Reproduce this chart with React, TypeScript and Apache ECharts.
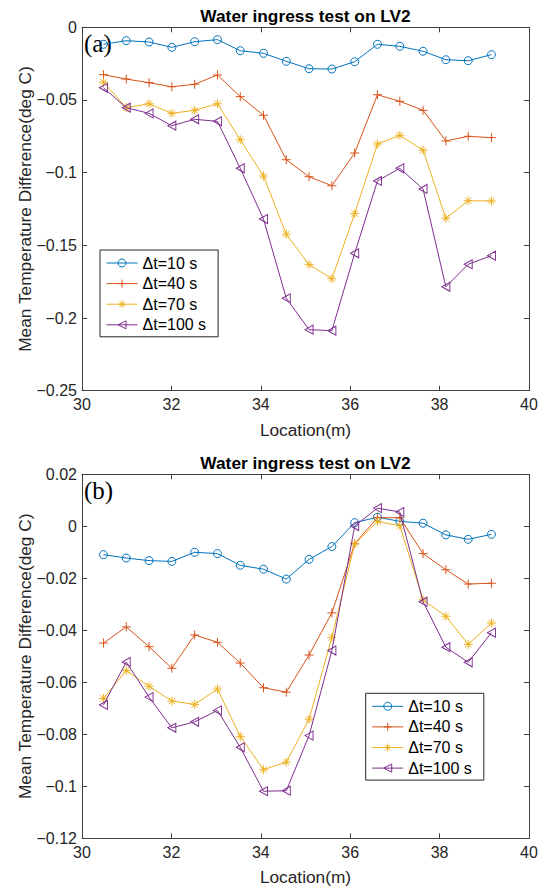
import React, { useEffect, useRef } from 'react';
import * as echarts from 'echarts';

// Locations (m) along the line
const locations = [30.48, 30.99, 31.5, 32.01, 32.52, 33.03, 33.54, 34.06, 34.57, 35.08, 35.59, 36.1, 36.61, 37.11, 37.63, 38.14, 38.64, 39.16];

const seriesNames = ['Δt=10 s', 'Δt=40 s', 'Δt=70 s', 'Δt=100 s'];

// Panel (a)
const a10 = [-0.0117, -0.0092, -0.0101, -0.0138, -0.0099, -0.0085, -0.0161, -0.0179, -0.0234, -0.0285, -0.0287, -0.0237, -0.0117, -0.0131, -0.0165, -0.0223, -0.023, -0.0188];
const a40 = [-0.0326, -0.0356, -0.0381, -0.0409, -0.0392, -0.0328, -0.0477, -0.0605, -0.0911, -0.1028, -0.109, -0.0865, -0.0464, -0.0509, -0.0571, -0.0782, -0.075, -0.0759];
const a70 = [-0.0378, -0.0553, -0.0526, -0.0592, -0.0571, -0.0526, -0.0773, -0.1023, -0.1424, -0.1633, -0.173, -0.1282, -0.0803, -0.0743, -0.0846, -0.1314, -0.1193, -0.1195];
const a100 = [-0.0416, -0.0553, -0.0592, -0.0677, -0.0633, -0.0647, -0.097, -0.1319, -0.1864, -0.208, -0.2087, -0.1555, -0.1057, -0.097, -0.1112, -0.1785, -0.163, -0.1571];

// Panel (b)
const b10 = [-0.0109, -0.0122, -0.0132, -0.0135, -0.01, -0.0105, -0.015, -0.0165, -0.0203, -0.0127, -0.0078, 0.0014, 0.0035, 0.0019, 0.0012, -0.0033, -0.005, -0.0031];
const b40 = [-0.0449, -0.0387, -0.0463, -0.0546, -0.0418, -0.0446, -0.0526, -0.0621, -0.0638, -0.0495, -0.0333, -0.0067, 0.0033, 0.0033, -0.0105, -0.0167, -0.0222, -0.0219];
const b70 = [-0.0662, -0.0555, -0.0615, -0.0672, -0.0685, -0.0626, -0.0808, -0.0936, -0.0907, -0.0742, -0.0427, -0.0068, 0.0018, 0.0002, -0.0283, -0.0346, -0.0454, -0.0372];
const b100 = [-0.0687, -0.0522, -0.0657, -0.0775, -0.0752, -0.0708, -0.085, -0.1019, -0.1017, -0.0805, -0.0478, 0.0001, 0.007, 0.0055, -0.029, -0.0465, -0.0523, -0.0409];

const titleText = 'Water ingress test on LV2';
const xLabel = 'Location(m)';
const yLabel = 'Mean Temperature Difference(deg C)';
const panelLabels = ['(a)', '(b)'];

const colors = ['#0072BD', '#D95319', '#EDB120', '#7E2F8E'];
const symbols = [
  'circle',
  'path://M5,0L5,10M0,5L10,5',
  'path://M5,0L5,10M0,5L10,5M1.5,1.5L8.5,8.5M1.5,8.5L8.5,1.5',
  'path://M0,5L9,0L9,10Z',
];
const symbolSizes: any[] = [8, 9, 9, [8, 9]];

const FONT = '"Liberation Sans", Arial, Helvetica, sans-serif';
const AXIS_COLOR = '#404040';
const CLEAR = 'rgba(255,255,255,0)';

const fmt = (v: number) => {
  const s = String(parseFloat(v.toFixed(4)));
  return s.replace('-', '\u2212');
};

export default function App() {
  const ref = useRef<HTMLDivElement>(null);
  useEffect(() => {
    if (!ref.current) return;
    const chart = echarts.init(ref.current, undefined, { renderer: 'svg' });

    const grids = [
      { left: 82, top: 27.3, width: 447, height: 363.4, outerBoundsMode: 'none' },
      { left: 82, top: 474.3, width: 447, height: 364, outerBoundsMode: 'none' },
    ];
    const yRanges = [
      { min: -0.25, max: 0, interval: 0.05 },
      { min: -0.12, max: 0.02, interval: 0.02 },
    ];

    const xAxes: any[] = [];
    const yAxes: any[] = [];
    [0, 1].forEach((g) => {
      ['bottom', 'top'].forEach((pos) => {
        xAxes.push({
          type: 'value', gridIndex: g, position: pos, min: 30, max: 40, interval: 2,
          axisLine: { show: true, onZero: false, lineStyle: { color: AXIS_COLOR, width: 1 } },
          axisTick: { show: true, inside: true, length: 5, lineStyle: { color: AXIS_COLOR, width: 1 } },
          axisLabel: { show: pos === 'bottom', margin: 6, fontSize: 16, fontFamily: FONT, color: '#262626', formatter: fmt },
          splitLine: { show: false },
        });
      });
      ['left', 'right'].forEach((pos) => {
        yAxes.push({
          type: 'value', gridIndex: g, position: pos, ...yRanges[g],
          axisLine: { show: true, onZero: false, lineStyle: { color: AXIS_COLOR, width: 1 } },
          axisTick: { show: true, inside: true, length: 5, lineStyle: { color: AXIS_COLOR, width: 1 } },
          axisLabel: { show: pos === 'left', margin: 5, fontSize: 16, fontFamily: FONT, color: '#262626', formatter: fmt },
          splitLine: { show: false },
        });
      });
    });

    const panels = [
      [a10, a40, a70, a100],
      [b10, b40, b70, b100],
    ];
    const series: any[] = [];
    panels.forEach((vals, g) => {
      vals.forEach((ys, k) => {
        series.push({
          type: 'line',
          name: seriesNames[k],
          xAxisIndex: g * 2,
          yAxisIndex: g * 2,
          data: locations.map((x, i) => [x, ys[i]]),
          symbol: symbols[k],
          symbolSize: symbolSizes[k],
          showAllSymbol: true,
          color: colors[k],
          lineStyle: { color: colors[k], width: 1 },
          itemStyle: { color: CLEAR, borderColor: colors[k], borderWidth: 1 },
          emphasis: { disabled: true },
          z: 2 + k,
        });
      });
    });

    const legendBase = {
      data: seriesNames,
      orient: 'vertical',
      itemWidth: 31,
      itemHeight: 10,
      itemGap: 4.6,
      padding: [5, 12, 4, 6],
      backgroundColor: '#ffffff',
      borderColor: '#262626',
      borderWidth: 1,
      borderRadius: 0,
      selectedMode: false,
      itemStyle: { color: CLEAR, borderWidth: 1 },
      lineStyle: { width: 1 },
      textStyle: { fontSize: 16, fontFamily: FONT, color: '#000', lineHeight: 16 },
    };

    const plotCx = 82 + 447 / 2;
    const graphic: any[] = [];
    [0, 1].forEach((g) => {
      const top = grids[g].top;
      const h = grids[g].height;
      graphic.push({
        type: 'text', x: plotCx, y: top - 11.3,
        style: { text: titleText, fontSize: 17.3, fontWeight: 'bold', fontFamily: FONT, fill: '#000', align: 'center', verticalAlign: 'middle' },
      });
      graphic.push({
        type: 'text', x: plotCx, y: top + h + 39,
        style: { text: xLabel, fontSize: 17.3, fontFamily: FONT, fill: '#262626', align: 'center', verticalAlign: 'middle' },
      });
      graphic.push({
        type: 'text', x: 25, y: top + h / 2, rotation: Math.PI / 2,
        style: { text: yLabel, fontSize: 17.3, fontFamily: FONT, fill: '#262626', align: 'center', verticalAlign: 'middle' },
      });
      graphic.push({
        type: 'text', x: 84, y: top + 16.5, z: 1,
        style: { text: panelLabels[g], fontSize: 25, fontFamily: '"Liberation Serif", "Times New Roman", serif', fill: '#000', align: 'left', verticalAlign: 'middle' },
      });
    });

    chart.setOption({
      animation: false,
      backgroundColor: '#ffffff',
      grid: grids,
      xAxis: xAxes,
      yAxis: yAxes,
      legend: [
        { ...legendBase, left: 100, top: 250 },
        { ...legendBase, left: 365.7, top: 693.3 },
      ],
      series,
      graphic,
    });
    return () => chart.dispose();
  }, []);
  return <div ref={ref} style={{ position: 'absolute', left: 0, top: 0, width: 542, height: 888 }} />;
}
